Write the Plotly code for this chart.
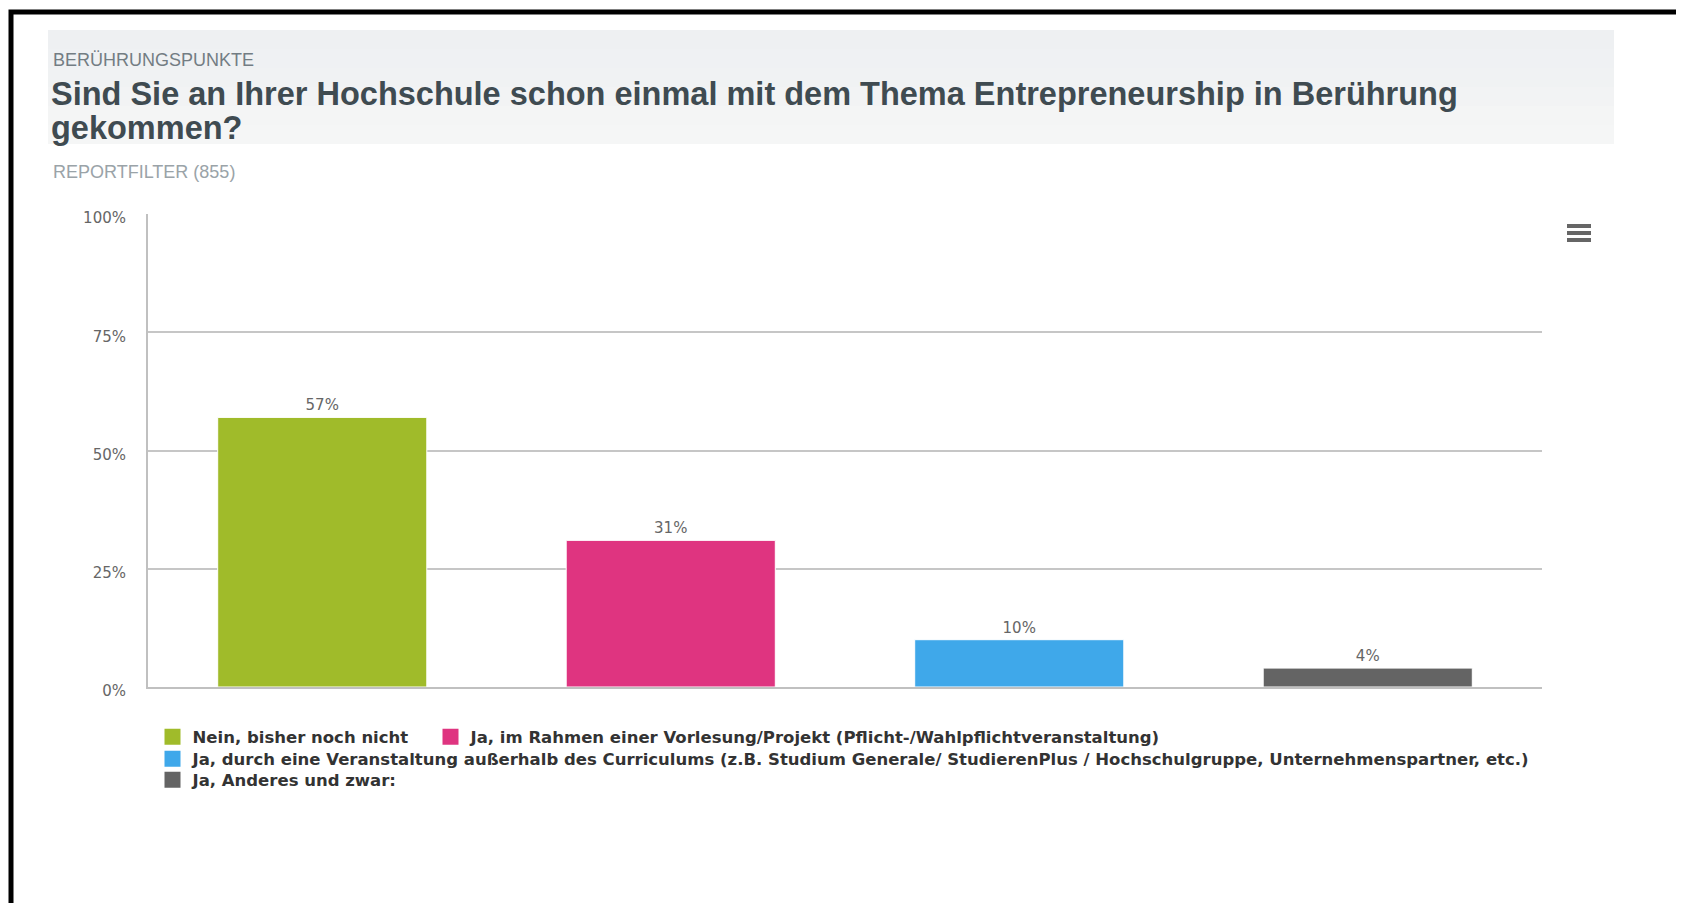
import plotly.graph_objects as go

# data
categories = [
    "Nein, bisher noch nicht",
    "Ja, im Rahmen einer Vorlesung/Projekt (Pflicht-/Wahlpflichtveranstaltung)",
    "Ja, durch eine Veranstaltung außerhalb des Curriculums (z.B. Studium Generale/ StudierenPlus / Hochschulgruppe, Unternehmenspartner, etc.)",
    "Ja, Anderes und zwar:",
]
shares = [57, 31, 10, 4]
bar_colors = ["#a0bb2a", "#df3480", "#3fa8ea", "#646464"]
y_ticks = [0, 25, 50, 75, 100]
y_tick_labels = ["0%", "25%", "50%", "75%", "100%"]
legend_ids = ["legend", "legend2", "legend3", "legend4"]

# the page body has an 8px margin, so work in page pixels and shift
OFF = 8
W, H = 1684 - OFF, 903 - OFF
ML, MT = 148 - OFF, 214 - OFF
MR, MB = W - (1542 - OFF), H - (687 - OFF)
PW, PH = W - ML - MR, H - MT - MB


def px_x(px):
    return (px - OFF - ML) / PW


def px_y(py):
    return (H - MB - (py - OFF)) / PH


fig = go.Figure()
for cat, val, col in zip(categories, shares, bar_colors):
    fig.add_trace(go.Bar(
        x=[cat], y=[val], name=cat, legendgroup=cat, showlegend=False,
        marker=dict(color=col, line=dict(color="white", width=1)),
        width=0.6,
        text=[f"{val}%"], textposition="outside", cliponaxis=False,
        textfont=dict(family="DejaVu Sans", size=15, color="#666666"),
        hoverinfo="name+y",
    ))

# legend entries (bigger square swatches than the bar default)
for cat, col, lg in zip(categories, bar_colors, legend_ids):
    fig.add_trace(go.Scatter(
        x=[None], y=[None], mode="markers", name=cat, legendgroup=cat,
        marker=dict(symbol="square", size=16, color=col), legend=lg,
        hoverinfo="skip",
    ))

# header band, faked gradient from top to bottom
band_steps = ["#eef0f2", "#eff1f3", "#f0f2f3", "#f2f3f4", "#f4f5f5", "#f5f6f6"]
band_top, band_bottom = 30, 144
step_h = (band_bottom - band_top) / len(band_steps)
shapes = []
for i, c in enumerate(band_steps):
    shapes.append(dict(type="rect", xref="paper", yref="paper", layer="below",
                       x0=px_x(48), x1=px_x(1614),
                       y0=px_y(band_top + (i + 1) * step_h), y1=px_y(band_top + i * step_h),
                       fillcolor=c, line=dict(width=0)))
# black frame
shapes.append(dict(type="rect", xref="paper", yref="paper",
                   x0=px_x(11), x1=px_x(1760), y0=px_y(950), y1=px_y(12),
                   fillcolor="rgba(0,0,0,0)", line=dict(color="black", width=5)))
# menu icon
for py in (226, 233, 240):
    shapes.append(dict(type="line", xref="paper", yref="paper",
                       x0=px_x(1567), x1=px_x(1591), y0=px_y(py), y1=px_y(py),
                       line=dict(color="#666666", width=4)))

title_font = dict(family="Liberation Sans", size=32.5, color="#3f4b51")
annotations = [
    dict(text="BERÜHRUNGSPUNKTE", x=px_x(51), y=px_y(60), xref="paper", yref="paper",
         xanchor="left", yanchor="middle", showarrow=False,
         font=dict(family="Liberation Sans", size=18, color="#737d83")),
    dict(text="<b>Sind Sie an Ihrer Hochschule schon einmal mit dem Thema Entrepreneurship in Berührung</b>",
         x=px_x(49), y=px_y(94), xref="paper", yref="paper",
         xanchor="left", yanchor="middle", showarrow=False, font=title_font),
    dict(text="<b>gekommen?</b>",
         x=px_x(49), y=px_y(128), xref="paper", yref="paper",
         xanchor="left", yanchor="middle", showarrow=False, font=title_font),
    dict(text="REPORTFILTER (855)", x=px_x(51), y=px_y(172), xref="paper", yref="paper",
         xanchor="left", yanchor="middle", showarrow=False,
         font=dict(family="Liberation Sans", size=18, color="#9aa3a8")),
]

legend_font = dict(family="DejaVu Sans", size=16.5, color="#333333", weight="bold")
legend_common = dict(orientation="h", xanchor="left", yanchor="middle", font=legend_font,
                     traceorder="normal", itemclick=False, itemdoubleclick=False,
                     bgcolor="rgba(0,0,0,0)")

fig.update_layout(
    width=W, height=H,
    margin=dict(l=ML, r=MR, t=MT, b=MB),
    paper_bgcolor="white", plot_bgcolor="white",
    barmode="overlay",
    showlegend=True,
    legend=dict(x=px_x(152.5), y=px_y(737), **legend_common),
    legend2=dict(x=px_x(430.5), y=px_y(737), **legend_common),
    legend3=dict(x=px_x(152.5), y=px_y(759), **legend_common),
    legend4=dict(x=px_x(152.5), y=px_y(780), **legend_common),
    shapes=shapes,
    annotations=annotations,
    xaxis=dict(showticklabels=False, showgrid=False, showline=True, linecolor="#c0c0c0",
               linewidth=2, ticks="", fixedrange=True),
    yaxis=dict(range=[0, 100], tickvals=y_ticks, ticktext=y_tick_labels, showgrid=True,
               gridcolor="#c6c6c6", gridwidth=1.5, showline=True, linecolor="#c0c0c0",
               linewidth=2, zeroline=False, ticklabelstandoff=17, ticklabelshift=4,
               fixedrange=True,
               tickfont=dict(family="DejaVu Sans", size=15, color="#666666")),
)

fig.write_html("out.html", config={"displayModeBar": False})
